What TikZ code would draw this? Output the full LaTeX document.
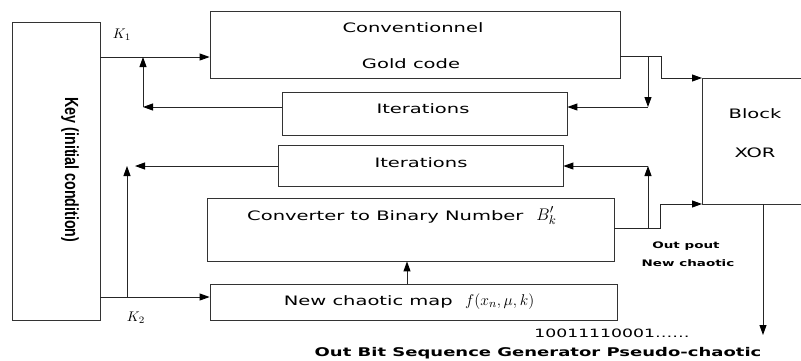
\documentclass[tikz,border=0pt]{standalone}
\usepackage{fontspec}
\setmainfont{DejaVu Sans}[FakeStretch=1.5]
\newfontfamily\keyfont{Liberation Sans}[FakeStretch=0.75]
\usetikzlibrary{arrows.meta,positioning}
\tikzset{
  blk/.style={draw=black!80, line width=0.8pt, inner sep=0pt},
  wire/.style={draw=black!85, line width=0.9pt},
  lbl/.style={font=\fontsize{13}{15}\selectfont, anchor=base, inner sep=0pt},
  small lbl/.style={font=\bfseries\fontsize{9}{11}\selectfont, anchor=base, inner sep=0pt},
  key lbl/.style={anchor=base, inner sep=0pt},
  >={Triangle[length=10pt,width=7pt,color=black]}
}
\newcommand{\wmath}[2][1.3]{\scalebox{#1}{$#2$}}

\begin{document}
\begin{tikzpicture}[x=1pt,y=-1pt]
\useasboundingbox (0,0) rectangle (801,360);

% blocks
\node[blk, minimum width=88pt, minimum height=298pt] (key) at (56,171) {};
\node[blk, minimum width=410pt, minimum height=67pt] (gold) at (415,44.5) {};
\node[blk, minimum width=285pt, minimum height=43pt] (it1) at (424.5,113.5) {};
\node[blk, minimum width=285pt, minimum height=41pt] (it2) at (420.5,165.5) {};
\node[blk, minimum width=407pt, minimum height=63pt] (conv) at (410.5,229.5) {};
\node[blk, minimum width=407pt, minimum height=36pt] (map) at (413.5,302) {};
\draw[blk] (801,78) -- (702,78) coordinate (xortl) -- (702,204) coordinate (xorbl) -- (801,204);

% texts
\node[rotate=-90, inner sep=0pt, font=\keyfont\bfseries\fontsize{19}{21}\selectfont] (keytxt) at (70,170) {Key (initial condition)};
\node[lbl] (goldtxt1) at (413,32) {Conventionnel};
\node[lbl] (goldtxt2) at (411,68) {Gold code};
\node[lbl] (it1txt) at (423,113) {Iterations};
\node[lbl] (it2txt) at (421,167) {Iterations};
\node[lbl] (convtxt) at (402,220) {Converter to Binary Number\quad \wmath[1.4]{B'_k}};
\node[lbl] (maptxt) at (409,305) {New chaotic map\ \ \wmath{f(x_n,\mu,k)}};
\node[lbl] (xortxt1) at (755,118) {Block};
\node[lbl] (xortxt2) at (755,157) {XOR};
\node[small lbl] (outtxt1) at (686,248) {Out pout};
\node[small lbl] (outtxt2) at (688,266) {New chaotic};
\node[lbl, font=\fontsize{11.5}{13}\selectfont] (bits) at (612,337) {10011110001……};
\node[lbl, font=\bfseries\fontsize{12}{14}\selectfont] (title) at (538,356) {Out Bit Sequence Generator Pseudo-chaotic};
\node[key lbl] (k1) at (122,38) {\wmath[1.4]{K_1}};
\node[key lbl] (k2) at (136,321) {\wmath[1.4]{K_2}};

% key inputs
\draw[wire,->] (key.east |- 0,57) -- (gold.west |- 0,57);
\draw[wire,->] (key.east |- 0,297) -- (map.west |- 0,297);
\draw[wire,->] (map.north -| 407,0) -- (conv.south -| 407,0);

% feedback to the left
\coordinate (fb1) at (143,107);
\draw[wire,->] (it1.west |- fb1) -- (fb1);
\draw[wire,->] (fb1) -- (fb1 |- 0,57);
\coordinate (fb2) at (127,166);
\draw[wire,->] (it2.west |- fb2) -- ([xshift=8pt]fb2);
\draw[wire,->] (fb2 |- 0,297) -- (fb2);

% outputs to XOR
\coordinate (go) at (648,56);
\draw[wire,->] (gold.east |- go) -- (661,56) -- (661,78) -- (xortl);
\draw[wire,->] (go) -- (648,107) coordinate (gi);
\draw[wire,->] (gi) -- (it1.east |- gi);
\coordinate (co) at (648,228);
\draw[wire,->] (conv.east |- co) -- (660,228) -- (660,204) -- (xorbl);
\draw[wire,->] (co) -- (648,166) coordinate (ci);
\draw[wire,->] (ci) -- (it2.east |- ci);
\draw[wire,->] (763,204) -- (763,335);
\end{tikzpicture}
\end{document}
